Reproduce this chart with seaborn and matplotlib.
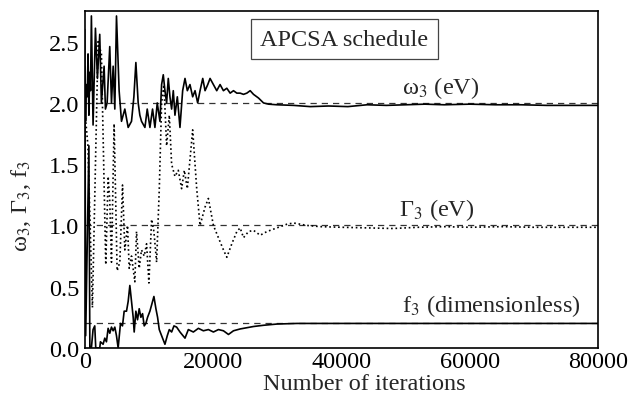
import matplotlib
matplotlib.use("Agg")
from matplotlib import pyplot as plt
from matplotlib.ticker import MultipleLocator
import pandas as pd
import seaborn as sns

# omega_3 (solid)
omega_iter = [0, 130, 260, 390, 520, 650, 780, 900, 1040, 1300, 1670, 1980, 2340,
              2600, 3020, 3230, 3490, 3900, 4170, 4430, 4690, 4950, 5360, 5730,
              6250, 6770, 7290, 7660, 7970, 8330, 8590, 8850, 9380, 9740, 10160,
              10570, 10940, 11300, 11720, 11980, 12240, 12500, 12760, 13020, 13280,
              13540, 13800, 14060, 14430, 14840, 15260, 15625, 15990, 16400, 16820,
              17190, 17600, 17970, 18390, 18750, 19170, 19530, 20050, 20570, 21090,
              21610, 22140, 22660, 23180, 23700, 24220, 24740, 25260, 25780, 26300,
              27080, 27860, 28650, 29950, 32550, 35150, 38000, 41000, 44000, 47000,
              50000, 53000, 56000, 60000, 64000, 68000, 72000, 76000, 80000]
omega_val = [2.30, 1.85, 2.15, 2.05, 2.40, 1.90, 2.25, 2.10, 2.71, 1.82, 2.61, 2.20, 2.56,
             2.00, 2.30, 1.95, 2.00, 2.46, 2.00, 2.30, 1.95, 2.71, 2.10, 1.85,
             1.95, 1.80, 1.85, 2.05, 2.33, 2.00, 1.90, 1.85, 1.80, 1.95, 1.80,
             1.95, 1.80, 2.00, 1.85, 2.15, 2.23, 2.10, 2.00, 2.20, 2.05,
             1.95, 2.10, 1.90, 2.05, 1.80, 2.10, 2.20, 2.10, 2.15, 2.05,
             2.10, 2.00, 2.10, 2.20, 2.10, 2.15, 2.20, 2.15, 2.10, 2.15,
             2.10, 2.12, 2.08, 2.10, 2.08, 2.08, 2.07, 2.08, 2.10, 2.07,
             2.04, 2.00, 1.99, 1.985, 1.98, 1.97, 1.975, 1.97, 1.985, 1.98,
             1.985, 1.99, 1.985, 1.99, 1.985, 1.985, 1.98, 1.98, 1.98]

# Gamma_3 (dotted)
gamma_iter = [0, 500, 1200, 2080, 2600, 3280, 3650, 3900, 4170, 4580, 5050, 5470,
              5890, 6250, 6670, 6930, 7290, 7810, 8070, 8490, 8850, 9270, 9640,
              10000, 10420, 10780, 11200, 11620, 11980, 12340, 12760, 13180, 13540,
              14060, 14580, 15100, 15520, 15990, 16820, 17450, 17970, 18750, 19270,
              20050, 20830, 21620, 22140, 22920, 23700, 24220, 24740, 25520, 26300,
              27340, 28390, 29950, 31510, 32550, 34640, 36720, 40000, 44000, 48000,
              52000, 56000, 60000, 65000, 70000, 75000, 80000]
gamma_val = [1.95, 1.65, 0.33, 2.50, 2.40, 0.68, 1.40, 1.20, 0.70, 1.83, 0.63, 0.70,
             1.33, 0.80, 1.00, 0.65, 0.75, 0.54, 0.95, 0.65, 0.80, 0.75, 0.85,
             0.53, 1.05, 0.95, 0.70, 1.30, 2.00, 2.15, 1.65, 1.90, 1.50,
             1.40, 1.45, 1.30, 1.45, 1.30, 1.78, 1.30, 1.00, 1.15, 1.22,
             1.00, 0.90, 0.80, 0.74, 0.85, 0.95, 0.98, 0.90, 0.95, 0.96,
             0.92, 0.95, 0.98, 1.01, 1.02, 1.00, 0.99, 0.985, 0.98, 0.975,
             0.985, 0.99, 0.985, 0.99, 0.985, 0.985, 0.985]

# f_3 (solid)
f_iter = [0, 150, 650, 800, 1040, 1300, 1563, 1719, 2083, 2344, 2448, 2865, 3125,
          3385, 3646, 3906, 4167, 4427, 4688, 4948, 5208, 5573, 5885, 6146, 6510,
          6771, 7031, 7292, 7552, 7708, 7969, 8229, 8490, 8750, 9010, 9271, 9531,
          9792, 10156, 10417, 10781, 11094, 11354, 11615, 11979, 12500, 12865,
          13177, 13542, 13906, 14323, 14844, 15625, 16146, 16927, 17708, 18490,
          19271, 20052, 20833, 21615, 22396, 23177, 24219, 25260, 26302, 27865,
          29948, 33073, 38281, 50000, 65000, 80000]
f_val = [2.60, 0.10, 1.65, 0.00, 0.00, 0.15, 0.18, 0.00, 0.00, 0.00, 0.05, 0.03, 0.08,
         0.05, 0.16, 0.12, 0.17, 0.14, 0.17, 0.10, 0.00, 0.20, 0.18, 0.30, 0.30,
         0.38, 0.51, 0.38, 0.25, 0.13, 0.30, 0.23, 0.32, 0.25, 0.28, 0.18, 0.20,
         0.25, 0.30, 0.35, 0.42, 0.32, 0.25, 0.15, 0.10, 0.03, 0.10,
         0.15, 0.13, 0.18, 0.17, 0.13, 0.08, 0.15, 0.13, 0.16, 0.14,
         0.15, 0.13, 0.15, 0.14, 0.11, 0.14, 0.155, 0.165, 0.175, 0.185,
         0.195, 0.20, 0.20, 0.20, 0.20, 0.20]

# target values (dashed)
targets = [2.0, 1.0, 0.2]

sns.set_theme(style="white")
plt.rcParams["font.family"] = ["Liberation Serif", "DejaVu Serif"]
plt.rcParams["mathtext.fontset"] = "stix"

fs = 17.5

fig = plt.figure(figsize=(6.37, 4.02), dpi=100)
ax = fig.add_axes([0.133, 0.132, 0.806, 0.838])

for y in targets:
    ax.plot([0, 80000], [y, y], color="#333333", lw=0.9, ls=(0, (5, 4)))

omega = pd.DataFrame({"iter": omega_iter, "val": omega_val})
gamma = pd.DataFrame({"iter": gamma_iter, "val": gamma_val})
f3 = pd.DataFrame({"iter": f_iter, "val": f_val})

sns.lineplot(data=gamma, x="iter", y="val", estimator=None, sort=False,
             color="black", lw=1.2, ls=":", ax=ax)
sns.lineplot(data=omega, x="iter", y="val", estimator=None, sort=False,
             color="black", lw=1.2, ax=ax)
sns.lineplot(data=f3, x="iter", y="val", estimator=None, sort=False,
             color="black", lw=1.2, ax=ax)

ax.set_xlim(0, 80000)
ax.set_ylim(0, 2.75)
ax.xaxis.set_major_locator(MultipleLocator(20000))
ax.xaxis.set_minor_locator(MultipleLocator(10000))
ax.yaxis.set_major_locator(MultipleLocator(0.5))
ax.yaxis.set_minor_locator(MultipleLocator(0.25))
ax.yaxis.set_major_formatter(plt.FuncFormatter(lambda v, p: f"{v:.1f}"))
ax.tick_params(which="both", direction="in", top=False, right=False,
               labelsize=fs, colors="black")
ax.tick_params(axis="x", which="major", length=6, width=1.0, pad=2)
ax.tick_params(axis="y", which="major", length=6, width=1.0, pad=4)
ax.tick_params(which="minor", length=3.5, width=0.9)
for s in ax.spines.values():
    s.set_color("black")
    s.set_linewidth(1.2)

ax.set_xlabel("Number of iterations", fontsize=fs)
ax.set_ylabel("ω$_3$, Γ$_3$, f$_3$", fontsize=fs)
ax.xaxis.set_label_coords(0.545, -0.075)
ax.yaxis.set_label_coords(-0.10, 0.425)

ax.text(0.506, 0.917, "APCSA schedule", transform=ax.transAxes, fontsize=fs,
        ha="center", va="center",
        bbox=dict(boxstyle="square,pad=0.4", fc="white", ec="#444444", lw=0.9))
ax.text(49500, 2.13, "ω$_3$ (eV)", fontsize=fs, ha="left", va="center")
ax.text(49000, 1.13, "Γ$_3$ (eV)", fontsize=fs, ha="left", va="center")
ax.text(49500, 0.35, "f$_3$ (dimensionless)", fontsize=fs, ha="left", va="center")

fig.savefig("out.png", dpi=100, facecolor="white")
